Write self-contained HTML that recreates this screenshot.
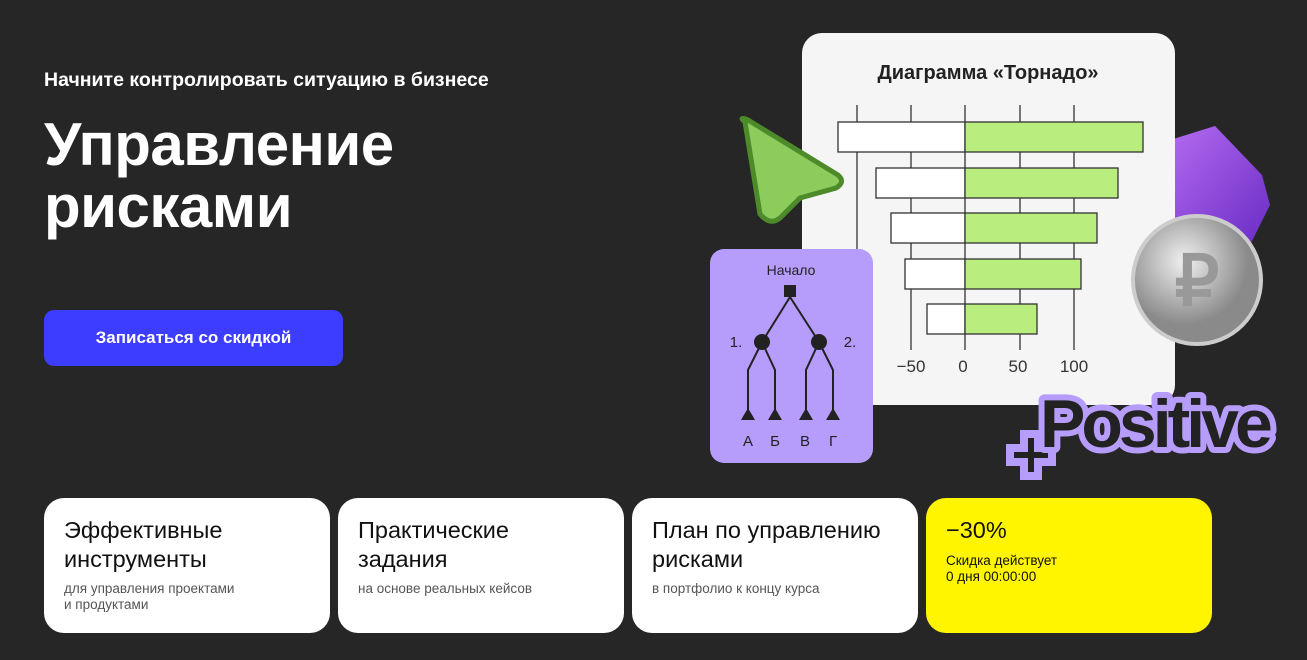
<!DOCTYPE html>
<html><head><meta charset="utf-8"><style>
body{margin:0;width:1307px;height:660px;background:#262626;font-family:"Liberation Sans","Noto Sans CJK SC",sans-serif;position:relative;overflow:hidden;color:#fff}
.a{position:absolute}
.card{position:absolute;top:498px;width:286px;height:135px;border-radius:20px;background:#fff;color:#111}
.card h3{margin:0;position:absolute;left:20px;top:18px;font-size:23.5px;font-weight:normal;line-height:29px}
.card p{margin:0;position:absolute;left:20px;top:83px;font-size:13.5px;color:#555;line-height:16px}
</style></head><body>
<div class="a" style="left:44px;top:69px;font-size:19.5px;font-weight:bold">Начните контролировать ситуацию в бизнесе</div>
<div class="a" style="left:44px;top:114px;font-size:60px;font-weight:bold;line-height:62px;letter-spacing:-0.5px">Управление<br>рисками</div>
<div class="a" style="left:44px;top:310px;width:299px;height:56px;border-radius:10px;background:#3d3dff;font-size:17px;font-weight:bold;text-align:center;line-height:56px">Записаться со скидкой</div>

<svg class="a" style="left:0;top:0" width="1307" height="660">
<defs><linearGradient id="pg" x1="0" y1="0" x2="1" y2="1"><stop offset="0" stop-color="#b36bf0"/><stop offset="1" stop-color="#6a2bc4"/></linearGradient>
<radialGradient id="cg" cx="0.4" cy="0.35"><stop offset="0" stop-color="#f0f0f0"/><stop offset="1" stop-color="#8a8a8a"/></radialGradient></defs>
<path d="M1170 140 L1215 126 L1262 175 L1270 205 L1250 245 L1170 245Z" fill="url(#pg)"/>
<rect x="802" y="33" width="373" height="372" rx="20" fill="#f5f5f5"/>
<text x="988" y="79" font-size="20" font-weight="bold" text-anchor="middle" fill="#222" font-family="Liberation Sans">Диаграмма «Торнадо»</text>
<g stroke="#333" stroke-width="1.3">
<line x1="857" y1="105" x2="857" y2="350"/><line x1="911" y1="105" x2="911" y2="350"/><line x1="965" y1="105" x2="965" y2="350"/><line x1="1020" y1="105" x2="1020" y2="350"/><line x1="1074" y1="105" x2="1074" y2="350"/>
<rect x="838" y="122" width="127" height="30" fill="#fff"/><rect x="965" y="122" width="178" height="30" fill="#b9ee7e"/>
<rect x="876" y="168" width="89" height="30" fill="#fff"/><rect x="965" y="168" width="153" height="30" fill="#b9ee7e"/>
<rect x="891" y="213" width="74" height="30" fill="#fff"/><rect x="965" y="213" width="132" height="30" fill="#b9ee7e"/>
<rect x="905" y="259" width="60" height="30" fill="#fff"/><rect x="965" y="259" width="116" height="30" fill="#b9ee7e"/>
<rect x="927" y="304" width="38" height="30" fill="#fff"/><rect x="965" y="304" width="72" height="30" fill="#b9ee7e"/>
</g>
<g font-size="17" fill="#333" text-anchor="middle" font-family="Liberation Sans"><text x="911" y="372">−50</text><text x="963" y="372">0</text><text x="1018" y="372">50</text><text x="1074" y="372">100</text></g>
<path d="M745 122 Q738 116 748 120 L838 175 Q846 182 836 188 L800 198 L780 218 Q770 226 760 214Z" fill="#8ccc5c" stroke="#4d8a2a" stroke-width="5"/>
<circle cx="1197" cy="280" r="64" fill="url(#cg)" stroke="#ccc" stroke-width="4"/>
<text x="1197" y="305" font-size="70" text-anchor="middle" fill="#999" font-family="Liberation Sans" font-weight="bold">₽</text>
<rect x="710" y="249" width="163" height="214" rx="14" fill="#b69cfb"/>
<text x="791" y="275" font-size="14" text-anchor="middle" fill="#222" font-family="Liberation Sans">Начало</text>
<rect x="784" y="285" width="12" height="12" fill="#222"/>
<g stroke="#222" stroke-width="2" fill="none"><path d="M790 297 L762 342 M790 297 L819 342 M762 342 L748 370 L748 410 M762 342 L775 370 L775 410 M819 342 L806 370 L806 410 M819 342 L833 370 L833 410"/></g>
<circle cx="762" cy="342" r="8" fill="#222"/><circle cx="819" cy="342" r="8" fill="#222"/>
<g fill="#222"><path d="M741 420 L748 408 L755 420Z"/><path d="M768 420 L775 408 L782 420Z"/><path d="M799 420 L806 408 L813 420Z"/><path d="M826 420 L833 408 L840 420Z"/></g>
<g font-size="15" fill="#222" text-anchor="middle" font-family="Liberation Sans"><text x="736" y="347">1.</text><text x="850" y="347">2.</text><text x="748" y="446">А</text><text x="775" y="446">Б</text><text x="805" y="446">В</text><text x="833" y="446">Г</text></g>
<path d="M1010 448 h14 v-14 h14 v14 h14 v14 h-14 v14 h-14 v-14 h-14Z" fill="#222" stroke="#b69cfb" stroke-width="8"/>
<text x="1040" y="447" font-size="68" font-weight="bold" fill="#222" stroke="#b69cfb" stroke-width="12" stroke-linejoin="round" paint-order="stroke" font-family="Liberation Sans" letter-spacing="-4">Positive</text>
</svg>

<div class="card" style="left:44px"><h3>Эффективные<br>инструменты</h3><p>для управления проектами<br>и продуктами</p></div>
<div class="card" style="left:338px"><h3>Практические<br>задания</h3><p>на основе реальных кейсов</p></div>
<div class="card" style="left:632px"><h3>План по управлению<br>рисками</h3><p>в портфолио к концу курса</p></div>
<div class="card" style="left:926px;background:#fff500"><h3>−30%</h3><p style="top:55px;color:#111">Скидка действует<br>0 дня 00:00:00</p></div>
</body></html>
